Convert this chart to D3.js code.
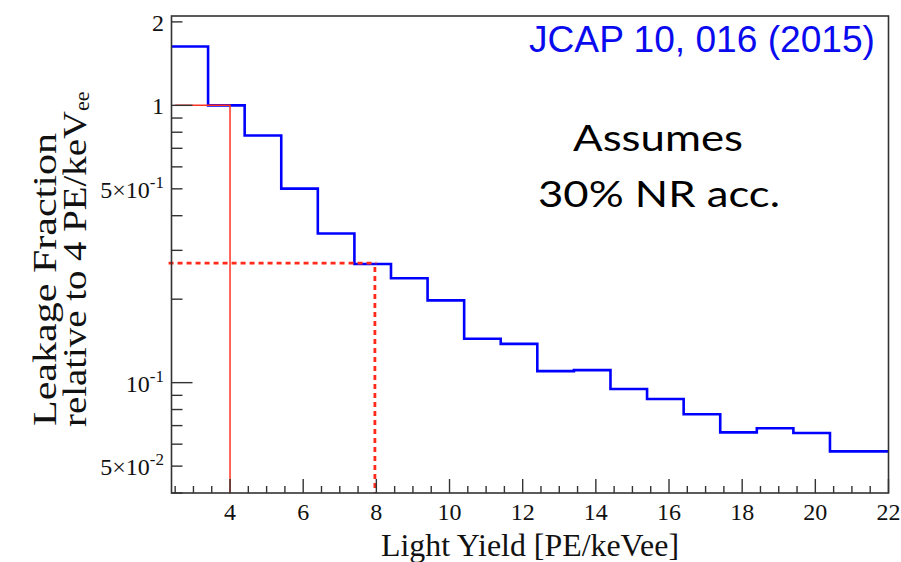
<!DOCTYPE html>
<html>
<head>
<meta charset="utf-8">
<script src="https://cdn.jsdelivr.net/npm/d3@7/dist/d3.min.js"></script>
<style>
  body { margin: 0; background: #fff; }
  svg { display: block; }
</style>
</head>
<body>
<script>
// histogram: low edge of each bin and its leakage fraction
const binLow = [2.4, 3.4, 4.4, 5.4, 6.4, 7.4, 8.4, 9.4, 10.4, 11.4, 12.4, 13.4, 14.4, 15.4, 16.4, 17.4, 18.4, 19.4, 20.4];
const leakage = [1.63, 1.0, 0.779, 0.501, 0.345, 0.268, 0.238, 0.198, 0.144, 0.138, 0.110, 0.111, 0.0949, 0.0873, 0.0769, 0.0662, 0.0685, 0.0658, 0.0565];
const histEnd = 22;

// red reference lines
const refSolid = [[2.5, 1], [4, 1], [4, 0.04]];
const refDashH = [[2.32, 0.27], [8, 0.27]];
const refDashV = [[7.96, 0.27], [7.96, 0.04]];

const xTickLabels = [4, 6, 8, 10, 12, 14, 16, 18, 20, 22];
const yLabelValues = [2, 1, 0.5, 0.1, 0.05];
const yLabelBase = ["2", "1", "5\u00d710", "10", "5\u00d710"];
const yLabelExp = ["", "", "-1", "-1", "-2"];

const W = 901, H = 562;
const frame = { left: 171.5, right: 888.5, top: 16, bottom: 493 };

const x = d3.scaleLinear().domain([2.4, 22]).range([frame.left, frame.right]);
const y = d3.scaleLog().domain([0.04, 2.1]).range([frame.bottom, frame.top]);

const svg = d3.select("body").append("svg").attr("width", W).attr("height", H);
svg.append("rect").attr("width", W).attr("height", H).attr("fill", "#fff");

const serif = "'Liberation Serif', 'Times New Roman', serif";
const axisColor = "#333";

const line = d3.line().x(d => x(d[0])).y(d => y(d[1]));

// clip for plot area
svg.append("clipPath").attr("id", "plot")
  .append("rect")
  .attr("x", frame.left - 4).attr("y", frame.top)
  .attr("width", frame.right - frame.left + 4).attr("height", frame.bottom - frame.top);

const plot = svg.append("g").attr("clip-path", "url(#plot)");

// histogram as a step line
const histPts = binLow.map((b, i) => [b, leakage[i]]);
histPts.push([histEnd, leakage[leakage.length - 1]]);
plot.append("path")
  .attr("d", d3.line().x(d => x(d[0])).y(d => y(d[1])).curve(d3.curveStepAfter)(histPts))
  .attr("fill", "none")
  .attr("stroke", "#0000ff")
  .attr("stroke-width", 2.6);

// red lines
plot.append("path").attr("d", line(refSolid))
  .attr("fill", "none").attr("stroke", "#ff3322").attr("stroke-width", 1.5);
plot.append("path").attr("d", line(refDashH))
  .attr("fill", "none").attr("stroke", "#ff2a1a").attr("stroke-width", 2.8)
  .attr("stroke-dasharray", "5,4");
plot.append("path").attr("d", line(refDashV))
  .attr("fill", "none").attr("stroke", "#ff2a1a").attr("stroke-width", 2.8)
  .attr("stroke-dasharray", "5,4").attr("stroke-dashoffset", -4);

// frame
svg.append("rect")
  .attr("x", frame.left).attr("y", frame.top)
  .attr("width", frame.right - frame.left).attr("height", frame.bottom - frame.top)
  .attr("fill", "none").attr("stroke", axisColor).attr("stroke-width", 1.6);

// x ticks (inside, upward)
const xMinor = d3.range(2.5, 22.01, 0.5);
svg.append("g").selectAll("line").data(xMinor).join("line")
  .attr("x1", d => x(d)).attr("x2", d => x(d))
  .attr("y1", frame.bottom)
  .attr("y2", d => frame.bottom - (xTickLabels.includes(d) ? 14 : 7))
  .attr("stroke", axisColor).attr("stroke-width", 1.4);

svg.append("g").selectAll("text").data(xTickLabels).join("text")
  .attr("x", d => x(d)).attr("y", 520)
  .attr("text-anchor", "middle")
  .attr("font-family", serif).attr("font-size", 24)
  .attr("fill", "#111")
  .text(d => d);

// y ticks (inside, rightward)
const yTicks = [];
[0.01, 0.1, 1].forEach(dec => {
  for (let k = 1; k <= 9; k++) {
    const v = k * dec;
    if (v >= 0.04 && v <= 2.1) yTicks.push({ v, major: k === 1 });
  }
});
svg.append("g").selectAll("line").data(yTicks).join("line")
  .attr("x1", frame.left)
  .attr("x2", d => frame.left + (d.major ? 21 : 11))
  .attr("y1", d => y(d.v)).attr("y2", d => y(d.v))
  .attr("stroke", axisColor).attr("stroke-width", 1.4);

const yl = svg.append("g").selectAll("text").data(yLabelValues).join("text")
  .attr("x", 164).attr("y", d => y(d) + 9)
  .attr("text-anchor", "end")
  .attr("font-family", serif).attr("font-size", 24)
  .attr("fill", "#111");
yl.append("tspan").text((d, i) => yLabelBase[i]);
yl.append("tspan")
  .attr("font-size", 17).attr("dy", -10)
  .text((d, i) => yLabelExp[i]);

// axis titles
svg.append("text")
  .attr("x", (frame.left + frame.right) / 2).attr("y", 556)
  .attr("text-anchor", "middle")
  .attr("font-family", serif).attr("font-size", 31)
  .attr("textLength", 298).attr("lengthAdjust", "spacingAndGlyphs")
  .attr("fill", "#111")
  .text("Light Yield [PE/keVee]");

svg.append("text")
  .attr("transform", "translate(56,426) rotate(-90)")
  .attr("font-family", serif).attr("font-size", 34)
  .attr("textLength", 293).attr("lengthAdjust", "spacingAndGlyphs")
  .attr("fill", "#111")
  .text("Leakage Fraction");

const yt2 = svg.append("text")
  .attr("transform", "translate(86,427) rotate(-90)")
  .attr("font-family", serif).attr("font-size", 34)
  .attr("fill", "#111");
yt2.append("tspan")
  .attr("textLength", 316).attr("lengthAdjust", "spacingAndGlyphs")
  .text("relative to 4 PE/keV");
yt2.append("tspan").attr("font-size", 22).attr("dy", 3).text("ee");

// annotations
svg.append("text")
  .attr("x", 875).attr("y", 52)
  .attr("text-anchor", "end")
  .attr("font-family", "'Liberation Sans', Arial, sans-serif").attr("font-size", 36)
  .attr("textLength", 346).attr("lengthAdjust", "spacingAndGlyphs")
  .attr("fill", "#0a0aee")
  .text("JCAP 10, 016 (2015)");

const note = svg.append("g").attr("font-family", "Lato, 'Open Sans', sans-serif")
  .attr("font-size", 37).attr("fill", "#000").attr("text-anchor", "middle");
note.append("text").attr("x", 658).attr("y", 151)
  .attr("textLength", 170).attr("lengthAdjust", "spacingAndGlyphs")
  .text("Assumes");
note.append("text").attr("x", 659).attr("y", 207)
  .attr("textLength", 242).attr("lengthAdjust", "spacingAndGlyphs")
  .text("30% NR acc.");
</script>
</body>
</html>
